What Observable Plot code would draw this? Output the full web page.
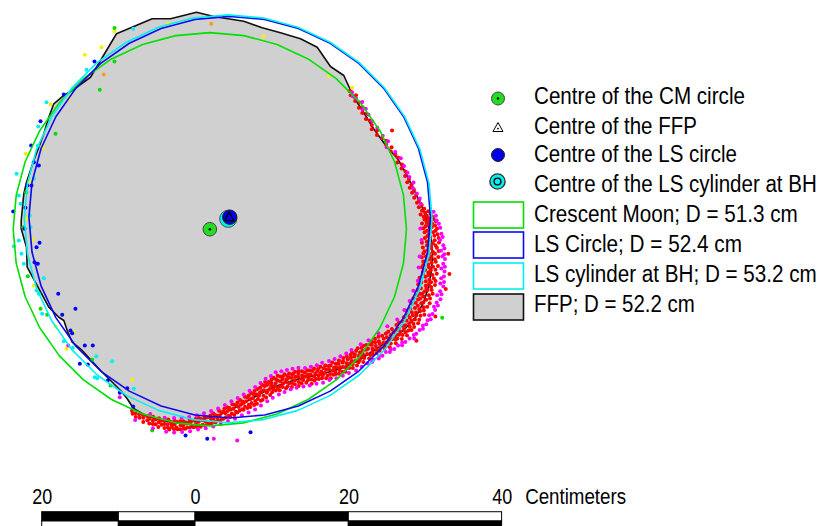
<!DOCTYPE html>
<html>
<head>
<meta charset="utf-8">
<script src="https://cdn.jsdelivr.net/npm/d3@7"></script>
<script src="https://cdn.jsdelivr.net/npm/@observablehq/plot@0.6"></script>
<style>
  html, body { margin: 0; padding: 0; background: #fff; }
  #wrap { position: relative; width: 822px; height: 526px; overflow: hidden; background: #fff; }
  #wrap svg { position: absolute; left: 0; top: 0; }
</style>
</head>
<body>
<div id="wrap"></div>
<script>
// ---- fitted circles: centres (cm, east / north) and diameters (cm)
const circleNames = ["Crescent Moon", "LS Circle", "LS cylinder at BH"];
const circleCentreX = [1.87, 4.47, 4.27];
const circleCentreY = [-1.53, 0.04, -0.17];
const circleDiameters = [51.3, 52.4, 53.2];

// ---- free-form profile (FFP) outline and centre, cm
const ffpName = "FFP";
const ffpDiameter = 52.2;
const ffpCentre = [4.40, -0.04];
const ffpOutline = [
  [0.13,26.78],[2.39,26.22],[6.30,25.61],[8.70,24.75],[11.09,24.10],[13.70,23.31],[15.88,22.22],
  [17.61,19.70],[19.35,18.53],[20.65,15.69],[21.79,13.96],[23.22,11.61],[24.92,9.26],[26.35,7.70],
  [27.40,5.87],[28.31,4.04],[29.09,2.35],[29.88,0.65],[30.40,-1.17],[30.79,-3.00],[30.92,-4.96],
  [30.79,-6.91],[30.40,-9.13],[29.75,-11.09],[28.70,-13.05],[27.14,-14.74],[25.44,-15.92],
  [23.48,-17.22],[21.27,-18.66],[18.92,-19.70],[16.31,-20.48],[13.70,-21.01],[11.48,-21.66],
  [9.52,-22.44],[7.57,-23.48],[5.48,-24.66],[3.26,-25.70],[0.65,-26.42],[-1.30,-26.74],
  [-4.17,-26.58],[-6.52,-25.83],[-8.09,-24.92],[-8.91,-23.65],[-9.78,-22.57],[-12.39,-19.96],
  [-14.78,-17.35],[-16.09,-16.27],[-16.74,-14.74],[-17.18,-13.44],[-17.83,-13.01],[-19.14,-11.70],
  [-21.96,-6.48],[-22.05,-3.87],[-22.74,-1.47],[-22.74,-0.39],[-22.40,3.09],[-22.05,4.61],
  [-21.10,7.44],[-20.44,9.17],[-19.79,10.92],[-19.14,13.09],[-18.49,14.83],[-17.18,15.92],
  [-16.09,16.57],[-13.70,18.30],[-10.31,23.97],[-8.05,24.92],[-5.65,25.92],[-3.26,25.92]
];

// ---- scanned wall points along the lower-right arc: [bearing deg, range cm] from the LS centre
const bandRed = [
  [46.5,22.7],[45.2,22.4],[44.0,22.9],[42.8,22.3],[41.5,22.6],[40.3,22.1],[39.6,22.5],[38.2,22.0],
  [37.1,22.4],[35.8,21.9],[34.6,22.2],[33.0,22.1],[31.8,21.8],[30.5,22.3],[29.2,22.0],[28.1,24.0],
  [27.4,22.4],[26.1,22.7],[24.9,22.5],[23.4,23.0],[22.2,22.7],[20.8,23.1],[19.5,23.3],[18.1,23.0],
  [17.0,23.5],[15.8,23.3],[14.6,23.7],[13.2,23.5],[12.0,23.9],[11.1,23.6],[10.2,24.1],[9.3,23.8],
  [8.5,24.3],[7.6,24.0],[6.8,24.5],[6.0,24.2],[5.2,24.8],[4.4,24.5],[3.6,25.1],[3.0,24.7],[2.5,25.4],
  [1.9,25.1],[1.7,25.9],[1.3,25.5],[1.0,26.2],[0.8,24.9],[0.5,25.7],[0.2,26.4],[0.1,25.3],
  [-0.2,25.9],[-0.5,26.6],[-0.7,25.4],[-1.0,26.1],[-1.2,26.9],[-1.5,25.7],[-1.7,26.4],[-1.9,25.1],
  [-2.1,26.0],[-2.3,26.8],[-2.6,25.6],[-2.8,26.4],[-3.1,27.1],[-3.3,25.3],[-3.6,26.2],[-3.8,26.9],[-3.9,25.8],
  [-4.2,26.6],[-4.4,25.5],[-4.7,27.2],[-4.9,26.1],[-5.2,26.8],[-5.4,25.9],[-5.7,27.4],[-5.9,26.3],
  [-6.1,25.6],[-6.4,26.9],[-6.6,26.2],[-6.9,27.5],[-7.1,25.9],[-7.3,26.7],[-7.6,25.3],[-7.8,27.1],[-7.9,26.4],
  [-8.2,26.0],[-8.4,27.3],[-8.7,26.6],[-8.9,25.5],[-9.2,27.6],[-9.4,26.2],[-9.7,26.9],[-9.9,25.8],[-9.5,28.9],
  [-10.1,27.2],[-10.3,26.4],[-10.6,25.7],[-10.8,27.7],[-11.1,26.8],[-11.3,26.1],[-11.6,27.3],[-11.8,25.6],[-11.9,26.6],
  [-12.2,27.5],[-12.4,26.3],[-12.7,27.0],[-12.9,25.9],[-13.2,27.9],[-13.4,26.6],[-13.7,27.3],[-13.9,26.0],
  [-14.1,26.8],[-14.3,27.7],[-14.6,25.9],[-14.8,27.1],[-15.1,26.4],[-15.3,28.0],[-15.6,26.9],[-15.8,26.2],[-15.9,27.5],[-14.5,29.6],
  [-16.2,27.0],[-16.4,26.3],[-16.7,27.8],[-16.9,26.7],[-17.2,28.1],[-17.4,27.3],[-17.7,26.0],[-17.9,27.6],
  [-18.1,26.9],[-18.3,28.2],[-18.6,27.4],[-18.8,26.4],[-19.1,27.8],[-19.3,27.1],[-19.6,26.1],[-19.8,28.0],[-19.9,27.3],[-18.4,29.7],
  [-20.2,27.5],[-20.4,26.6],[-20.7,28.3],[-20.9,27.2],[-21.2,26.3],[-21.4,27.9],[-21.7,27.0],[-21.9,26.8],
  [-22.1,28.2],[-22.3,27.3],[-22.6,26.5],[-22.8,27.8],[-23.1,27.0],[-23.3,28.4],[-23.6,26.8],[-23.8,27.6],[-23.9,26.2],
  [-24.2,27.4],[-24.4,28.3],[-24.7,26.7],[-24.9,27.9],[-25.2,27.1],[-25.4,26.3],[-25.7,28.1],[-25.9,27.5],[-25.8,29.8],
  [-26.1,26.9],[-26.3,27.7],[-26.6,28.4],[-26.8,26.4],[-27.1,27.3],[-27.3,28.0],[-27.6,26.8],[-27.8,27.5],[-27.9,26.1],
  [-28.2,27.1],[-28.4,28.1],[-28.7,26.5],[-28.9,27.6],[-29.2,26.9],[-29.4,28.2],[-29.7,27.3],[-29.9,26.2],
  [-30.1,27.7],[-30.3,26.7],[-30.6,27.2],[-30.8,28.0],[-31.1,26.3],[-31.3,27.5],[-31.6,26.9],[-31.8,27.9],[-31.9,26.0],
  [-32.2,26.6],[-32.4,27.6],[-32.7,27.0],[-32.9,25.9],[-33.2,27.4],[-33.4,26.4],[-33.7,27.8],[-33.9,26.8],[-33.5,29.2],
  [-34.1,26.3],[-34.3,27.3],[-34.6,25.7],[-34.8,26.9],[-35.1,26.1],[-35.3,27.5],[-35.6,26.6],[-35.8,25.5],[-35.9,27.0],
  [-36.2,26.0],[-36.4,26.9],[-36.7,25.4],[-36.9,26.5],[-37.2,27.2],[-37.4,25.8],[-37.7,26.3],[-37.9,25.2],
  [-38.1,26.7],[-38.3,25.6],[-38.6,26.2],[-38.8,24.9],[-39.1,26.9],[-39.3,25.9],[-39.6,26.4],[-39.8,25.3],[-39.9,24.7],
  [-40.2,25.6],[-40.4,26.5],[-40.7,25.0],[-40.9,26.0],[-41.2,24.6],[-41.4,25.4],[-41.7,26.2],[-41.9,24.9],
  [-42.1,25.8],[-42.3,24.7],[-42.6,25.3],[-42.8,26.1],[-43.1,24.4],[-43.3,25.6],[-43.6,24.9],[-43.8,25.9],[-43.9,24.2],
  [-44.2,24.8],[-44.4,25.7],[-44.7,24.2],[-44.9,25.3],[-45.2,24.6],[-45.4,25.9],[-45.7,23.9],[-45.9,25.0],
  [-46.1,24.5],[-46.3,25.4],[-46.6,24.0],[-46.8,25.0],[-47.1,24.7],[-47.3,25.7],[-47.6,24.2],[-47.8,25.2],[-47.9,23.8],
  [-48.2,24.4],[-48.4,25.3],[-48.7,23.9],[-48.9,24.9],[-49.2,24.2],[-49.4,25.5],[-49.7,24.6],[-49.9,23.7],
  [-50.1,25.0],[-50.3,24.1],[-50.6,24.7],[-50.8,25.4],[-51.1,23.6],[-51.3,24.4],[-51.6,25.1],[-51.8,23.9],[-51.9,24.8],
  [-52.2,24.0],[-52.4,24.9],[-52.7,23.5],[-52.9,24.5],[-53.2,25.2],[-53.4,23.8],[-53.7,24.3],[-53.9,25.0],
  [-54.1,23.6],[-54.3,24.6],[-54.6,24.0],[-54.8,23.2],[-55.1,24.9],[-55.3,23.9],[-55.6,24.4],[-55.8,23.4],[-55.9,24.7],
  [-56.2,24.1],[-56.4,23.3],[-56.7,24.6],[-56.9,23.7],[-57.2,23.0],[-57.4,24.3],[-57.7,23.5],[-57.9,24.8],
  [-58.1,23.2],[-58.3,24.3],[-58.6,23.8],[-58.8,22.8],[-59.1,24.5],[-59.3,23.4],[-59.6,24.0],[-59.8,22.9],[-59.9,23.6],
  [-60.2,24.2],[-60.4,23.1],[-60.7,23.7],[-60.9,22.6],[-61.2,24.1],[-61.4,23.3],[-61.7,22.8],[-61.9,23.9],
  [-62.1,23.5],[-62.3,22.6],[-62.6,24.0],[-62.8,23.1],[-63.1,22.4],[-63.3,23.7],[-63.6,22.9],[-63.8,24.2],[-63.9,23.3],
  [-64.2,22.5],[-64.4,23.6],[-64.7,23.0],[-64.9,22.2],[-65.2,23.8],[-65.4,22.7],[-65.7,23.3],[-65.9,22.0],
  [-66.1,23.1],[-66.3,22.3],[-66.6,23.6],[-66.8,22.7],[-67.1,21.9],[-67.3,23.3],[-67.6,22.5],[-67.8,23.8],[-67.9,22.0],
  [-68.2,22.9],[-68.4,22.1],[-68.7,23.4],[-68.9,22.5],[-69.2,21.8],[-69.4,23.1],[-69.7,22.3],[-69.9,23.6],
  [-70.1,22.0],[-70.3,23.0],[-70.6,22.4],[-70.8,21.7],[-71.1,23.3],[-71.3,22.7],[-71.6,21.9],[-71.8,23.5],[-71.9,22.2],
  [-72.2,22.8],[-72.4,21.8],[-72.7,23.2],[-72.9,22.4],[-73.2,21.6],[-73.4,23.0],[-73.7,22.2],[-73.9,23.5],
  [-74.1,22.0],[-74.3,23.1],[-74.6,22.5],[-74.8,21.7],[-75.1,23.4],[-75.3,22.8],[-75.6,21.9],[-75.8,23.2],[-75.9,22.3],
  [-76.2,22.6],[-76.4,23.5],[-76.7,22.1],[-76.9,23.0],[-77.2,23.8],[-77.4,22.4],[-77.7,23.2],[-77.9,22.0],
  [-78.1,23.4],[-78.3,22.5],[-78.6,24.0],[-78.8,23.0],[-79.1,22.3],[-79.3,23.7],[-79.6,23.1],[-79.8,24.2],[-79.9,22.6],
  [-80.2,23.2],[-80.4,24.3],[-80.7,23.6],[-80.9,22.7],[-81.2,24.0],[-81.4,23.4],[-81.7,24.6],[-81.9,22.9],
  [-82.1,24.2],[-82.3,23.3],[-82.6,24.7],[-82.8,23.8],[-83.1,23.1],[-83.3,24.4],[-83.6,23.9],[-83.8,24.9],[-83.9,23.4],
  [-84.2,24.6],[-84.4,23.6],[-84.7,25.0],[-84.9,24.1],[-85.2,23.5],[-85.4,24.8],[-85.7,24.3],[-85.9,25.2],
  [-86.1,24.1],[-86.3,25.1],[-86.6,24.5],[-86.8,23.9],[-87.1,25.3],[-87.3,24.8],[-87.6,24.2],[-87.8,25.5],[-87.9,24.6],
  [-88.2,25.4],[-88.4,24.5],[-88.7,25.8],[-88.9,25.0],[-89.2,24.4],[-89.4,25.6],[-89.7,25.1],[-89.9,26.0],
  [-90.1,24.9],[-90.3,25.9],[-90.6,25.3],[-90.8,24.8],[-91.1,26.1],[-91.3,25.6],[-91.6,25.0],[-91.8,26.3],[-91.9,25.4],
  [-92.2,26.3],[-92.4,25.5],[-92.7,26.6],[-92.9,25.9],[-93.2,25.3],[-93.4,26.4],[-93.7,26.0],[-93.9,26.8],
  [-94.1,25.9],[-94.3,26.8],[-94.6,26.3],[-94.8,25.7],[-95.1,27.0],[-95.3,26.5],[-95.6,26.0],[-95.8,27.1],
  [-96.2,27.1],[-96.4,26.3],[-96.7,27.4],[-96.9,26.8],[-97.2,26.2],[-97.4,27.3],[-97.7,26.7],[-97.9,27.6],
  [-98.1,26.6],[-98.3,27.5],[-98.6,27.0],[-98.8,26.5],[-99.1,27.7],[-99.3,27.2],[-99.6,26.7],[-99.8,27.8],
  [-100.2,27.7],[-100.4,27.0],[-100.7,27.9],[-100.9,27.3],[-101.2,26.9],[-101.4,28.0],[-101.7,27.5],[-101.9,28.2],
  [-102.1,27.4],[-102.3,28.2],[-102.6,27.8],[-102.8,27.3],[-103.1,28.4],[-103.3,27.9],[-103.6,27.4],[-103.8,28.5],
  [-104.2,28.3],[-104.4,27.6],[-104.7,28.6],[-104.9,28.0],[-105.2,27.5],[-105.4,28.4],[-105.7,28.1],[-105.9,28.8],
  [-106.1,27.8],[-106.4,28.6],[-106.7,28.2],[-106.9,27.6],[-107.2,28.8],[-107.5,28.3],[-107.8,27.9],
  [-108.2,28.5],[-108.5,28.0],[-108.8,28.9],[-109.1,28.3],[-109.4,27.8],[-109.7,28.7],
  [-110.1,28.1],[-110.4,28.8],[-110.7,28.4],[-111.0,27.9],[-111.3,28.9],[-111.7,28.3],
  [-112.1,28.6],[-112.5,28.1],[-112.9,29.0],[-113.3,28.5],[-113.7,28.2],
  [-114.2,28.7],[-114.7,28.3],[-115.2,28.8],[-115.7,28.4],[-116.3,28.6],[-116.8,28.3]
];
const bandMagenta = [
  [45.6,22.8],[44.5,22.5],[43.2,22.6],[41.0,22.9],[39.0,22.3],[38.6,22.7],[36.4,22.5],[34.0,22.4],
  [31.2,22.5],[28.0,22.6],[25.6,22.9],[24.0,22.4],[21.5,23.2],[19.0,23.6],[16.4,23.7],[14.0,23.9],
  [12.6,24.0],[10.7,24.4],[9.0,24.2],[7.2,24.6],[5.6,24.9],[4.0,25.0],
  [1.5,26.6],[0.4,26.9],[-0.9,27.0],[-1.8,27.3],[-2.9,27.5],[-3.4,24.9],[-4.5,27.7],[-5.3,27.9],
  [-6.2,27.6],[-6.8,25.2],[-7.5,28.1],[-8.3,28.3],[-9.0,27.9],[-9.8,28.4],[-10.4,28.2],[-11.0,28.6],
  [-11.7,25.3],[-12.3,28.5],[-13.0,28.8],[-13.6,28.4],[-14.2,28.9],[-14.9,25.5],[-15.5,29.0],[-16.1,28.7],
  [-16.8,29.2],[-17.5,28.8],[-18.0,29.3],[-18.7,25.9],[-19.4,29.1],[-20.0,29.4],[-20.6,28.9],[-21.3,29.5],
  [-21.8,25.8],[-22.4,29.2],[-23.0,29.5],[-23.7,29.1],[-24.3,29.4],[-25.0,25.9],[-25.5,29.3],[-26.2,29.0],
  [-26.9,29.4],[-27.5,29.1],[-28.0,25.8],[-28.6,29.2],[-29.3,28.9],[-30.0,29.1],[-30.7,28.8],[-31.4,25.6],
  [-32.0,28.7],[-32.6,28.5],[-33.3,28.8],[-34.0,28.3],[-34.7,25.0],[-35.4,28.1],[-36.0,27.8],[-36.6,28.0],
  [-37.3,27.6],[-38.0,24.6],[-38.7,27.5],[-39.4,27.2],[-40.1,27.3],[-40.8,26.9],[-41.6,24.2],[-42.2,26.9],
  [-42.9,26.6],[-43.5,26.8],[-44.1,23.8],[-44.8,26.4],[-45.5,26.5],
  [-46.7,26.2],[-47.5,23.5],[-48.6,26.0],[-49.5,23.4],[-50.5,25.9],[-51.5,23.2],[-52.6,25.6],[-53.5,23.0],
  [-54.5,25.4],[-55.4,22.8],[-56.5,25.2],[-57.6,22.5],[-58.5,24.9],[-59.5,22.4],[-60.6,24.8],[-61.5,22.2],
  [-62.5,24.5],[-63.5,22.0],[-64.6,24.3],[-65.5,21.6],[-66.5,24.1],[-67.5,21.4],[-68.6,23.9],[-69.5,21.3],
  [-70.5,23.8],[-71.5,21.2],[-72.6,23.9],[-73.5,21.1],[-74.5,24.0],[-75.5,21.4],[-76.6,24.2],[-77.5,21.6],
  [-78.5,24.5],[-79.5,22.0],[-80.6,24.9],[-81.5,22.4],[-82.5,25.3],[-83.5,22.8],[-84.5,25.6],[-85.5,23.2],
  [-86.5,25.9],[-87.5,23.6],[-88.5,26.3],[-89.5,24.0],[-90.5,26.6],[-91.5,24.5],[-92.5,27.0],[-93.5,25.0],
  [-94.5,27.4],[-95.5,25.4],[-96.5,27.7],[-97.5,25.8],[-98.5,28.0],[-99.5,26.2],[-100.5,28.4],[-101.5,26.6],
  [-102.5,28.7],[-103.5,26.9],[-104.5,29.0],[-105.5,27.2],[-106.5,29.2],[-108.0,27.5],[-110.0,29.3],
  [-112.0,27.7],[-115.0,29.2]
];

// ---- scattered points round the rest of the wall, cm (east, north)
const pointsYellow = [
  [-12.26,22.22],[-14.44,21.23],[-10.57,24.31],[-3.56,25.27],[8.83,23.61],[17.39,18.49],[20.44,16.92],
  [-18.92,14.74],[-16.53,15.49],[-19.87,9.17],[-22.14,8.31],[-21.62,4.74],[-22.05,-0.17],[-21.23,-2.91],
  [-21.10,-8.87],[-18.26,-14.22],[-16.83,-17.13],[-8.26,-21.17],[-15.96,-14.87]
];
const pointsOrange = [[2.05,25.27],[-11.96,18.66]];
const pointsGreen = [
  [-10.57,24.73],[-10.57,20.35],[-12.49,16.66],[-18.26,10.92],[-22.09,3.30],[-22.48,-1.27],[-21.88,-7.66],
  [-20.22,-11.91],[-19.35,-12.69],[-13.48,-18.56],[-11.09,-21.92],[-5.65,-27.79],[32.19,-13.09]
];
const pointsBlue = [
  [-13.18,20.35],[-17.18,16.05],[-20.22,12.56],[-21.44,9.39],[-21.10,7.21],[-20.44,6.78],[-21.96,4.17],
  [-21.40,4.17],[-23.78,0.78],[-22.18,1.27],[-22.31,-1.47],[-20.35,-3.30],[-20.74,-3.87],[-21.00,-5.83],
  [-20.57,-6.04],[-17.91,-9.95],[-15.66,-11.91],[-17.39,-12.69],[-16.31,-14.74],[-16.09,-15.09],
  [-14.44,-16.70],[-13.40,-16.70],[-15.09,-19.09],[-14.05,-19.18],[-11.44,-21.27],[-9.88,-22.87],
  [-8.91,-22.27],[-8.13,-24.66],[-1.30,-28.44],[7.18,-28.01],[1.53,-28.87]
];
const pointsCyan = [
  [-8.13,24.62],[-14.22,19.27],[-19.44,15.04],[-20.52,11.87],[-20.57,9.35],[-23.35,5.70],[-21.10,5.09],
  [-23.05,2.87],[-22.83,1.79],[-21.62,0.26],[-23.05,-3.00],[-23.70,-3.74],[-22.70,-4.74],[-22.40,-6.04],
  [-21.53,-1.27],[-19.79,-7.92],[-20.74,-9.52],[-20.44,-9.95],[-20.00,-12.56],[-17.18,-16.14],
  [-16.01,-17.00],[-12.95,-18.10],[-10.87,-18.75],[-13.14,-20.84],[-12.82,-20.97],[-8.05,-22.35]
];
const pointsMagenta = [[-16.61,-16.70],[-9.88,-23.44],[5.44,-29.09],[2.39,-28.87]];

// ---- scale bar (cm)
const scaleStops = [-20, -10, 0, 20, 40];
const scaleTicks = [-20, 0, 20, 40];
const scaleUnit = "Centimeters";

// ---- drawing
const FONT = '"Liberation Sans Narrow", "Arial Narrow", "Liberation Sans", Arial, sans-serif';
const W = 822, H = 526;
const pxPerCm = 7.665;
const origin = [195, 217]; // where (0, 0) cm sits on the page

const colors = {
  cm: "#00e000", ls: "#0a0af0", cyl: "#00f0f0",
  ffpFill: "#d0d0d0", ffpStroke: "#111111",
  red: "#ff0000", magenta: "#ff00ff", blue: "#0000ff", cyan: "#00f0f0",
  yellow: "#f2f200", green: "#00dd00", orange: "#ff9a1a"
};
const circleColors = [colors.cm, colors.ls, colors.cyl];

const lsX = circleCentreX[1], lsY = circleCentreY[1];
const toXY = ([deg, r]) => {
  const a = deg * Math.PI / 180;
  return [lsX + r * Math.cos(a), lsY + r * Math.sin(a)];
};
const redXY = bandRed.map(toXY);
const magentaXY = bandMagenta.map(toXY);

// each fitted circle drawn as a 36-sided outline
const circleVerts = circleNames.map((name, i) =>
  d3.range(0, 361, 10).map(deg => {
    const a = deg * Math.PI / 180, r = circleDiameters[i] / 2;
    return [circleCentreX[i] + r * Math.cos(a), circleCentreY[i] + r * Math.sin(a)];
  })
);

const X = d => d[0], Y = d => d[1];
const dots = (data, fill) => Plot.dot(data, {x: X, y: Y, r: 2, fill});

const segs = d3.pairs(scaleStops).map(([a, b], i) => ({a, b, i}));
const barTop = [-38.45, -39.66], barBot = [-39.66, -41.5];

const chart = Plot.plot({
  width: W, height: H, margin: 0,
  style: {fontFamily: FONT, background: "transparent", overflow: "hidden"},
  x: {domain: [-origin[0] / pxPerCm, (W - origin[0]) / pxPerCm], range: [0, W], axis: null},
  y: {domain: [(origin[1] - H) / pxPerCm, origin[1] / pxPerCm], range: [H, 0], axis: null},
  marks: [
    Plot.line(ffpOutline, {x: X, y: Y, curve: "linear-closed", fill: colors.ffpFill, stroke: colors.ffpStroke, strokeWidth: 1.6}),
    dots(pointsYellow, colors.yellow),
    dots(pointsOrange, colors.orange),
    dots(pointsGreen, colors.green),
    dots(pointsCyan, colors.cyan),
    dots(pointsBlue, colors.blue),
    dots(pointsMagenta, colors.magenta),
    dots(redXY, colors.red),
    dots(magentaXY, colors.magenta),
    ...circleVerts.map((v, i) => Plot.line(v, {x: X, y: Y, stroke: circleColors[i], strokeWidth: 1.6})),
    // centres
    Plot.dot([[circleCentreX[0], circleCentreY[0]]], {x: X, y: Y, r: 6.8, fill: "#22dd22", stroke: "#444", strokeWidth: 1}),
    Plot.dot([[circleCentreX[0], circleCentreY[0]]], {x: X, y: Y, r: 1.3, fill: "#000"}),
    Plot.dot([[circleCentreX[2], circleCentreY[2]]], {x: X, y: Y, r: 8.6, fill: colors.cyl, stroke: "#555", strokeWidth: 1}),
    Plot.dot([[circleCentreX[1], circleCentreY[1]]], {x: X, y: Y, r: 7.2, fill: "#0000e8", stroke: "#222", strokeWidth: 1}),
    Plot.dot([ffpCentre], {x: X, y: Y, r: 3.6, symbol: "triangle", fill: "none", stroke: "#000", strokeWidth: 1.2}),
    // scale bar
    Plot.rect(segs, {x1: "a", x2: "b", y1: barTop[0], y2: barTop[1], fill: d => d.i % 2 ? "#fff" : "#000", stroke: "#000", strokeWidth: 1}),
    Plot.rect(segs, {x1: "a", x2: "b", y1: barBot[0], y2: barBot[1], fill: d => d.i % 2 ? "#000" : "#fff", stroke: "#000", strokeWidth: 1}),
    Plot.text(scaleTicks, {x: d => d, y: -36.4, text: d => String(Math.abs(d)), fontSize: 22, fill: "#000", lineAnchor: "middle"}),
    Plot.text([scaleUnit], {x: scaleStops[scaleStops.length - 1], y: -36.4, dx: 20, text: d => d, textAnchor: "start", fontSize: 22, fill: "#000", lineAnchor: "middle"})
  ]
});

const wrap = document.getElementById("wrap");
wrap.appendChild(chart);

// the labels use a condensed face: narrow each text run horizontally about its anchor
function squeeze(t, width, anchor) {
  const box = t.ownerSVGElement.getBoundingClientRect();
  const r = t.getBoundingClientRect();
  const ax = (anchor === "start" ? r.left : r.left + r.width / 2) - box.left;
  const sx = width / r.width;
  const g = document.createElementNS("http://www.w3.org/2000/svg", "g");
  g.setAttribute("transform", `translate(${ax},0) scale(${sx},1) translate(${-ax},0)`);
  t.parentNode.insertBefore(g, t);
  g.appendChild(t);
}
chart.querySelectorAll("text").forEach(t => {
  const s = t.textContent;
  if (s === scaleUnit) squeeze(t, 101, "start");
  else squeeze(t, s.length * 10, "middle");
});

// ---- legend
const leg = d3.create("svg").attr("width", W).attr("height", H)
  .style("font-family", FONT).style("pointer-events", "none");
wrap.appendChild(leg.node());
const textX = 534, symX = 498;
const labels = [
  "Centre of the CM circle",
  "Centre of the FFP",
  "Centre of the LS circle",
  "Centre of the LS cylinder at BH",
  ...circleNames.map((n, i) => `${n}; D = ${circleDiameters[i].toFixed(1)} cm`),
  `${ffpName}; D = ${ffpDiameter.toFixed(1)} cm`
];
const baselines = [104, 134, 162, 192, 222, 252, 282.5, 312.5];
const labelWidths = [211, 163, 203, 283, 264, 208, 283, 161];
labels.forEach((t, i) => {
  const el = leg.append("text").attr("x", textX).attr("y", baselines[i]).attr("font-size", 23.5).attr("fill", "#000").text(t);
  squeeze(el.node(), labelWidths[i], "start");
});
// point symbols
leg.append("circle").attr("cx", symX).attr("cy", 98.5).attr("r", 6.5).attr("fill", "#22dd22").attr("stroke", "#444");
leg.append("circle").attr("cx", symX).attr("cy", 98.5).attr("r", 1.2).attr("fill", "#000");
leg.append("path").attr("d", `M${symX},122.5L${symX + 5},131.5L${symX - 5},131.5Z`).attr("fill", "#fff").attr("stroke", "#000").attr("stroke-width", 1);
leg.append("circle").attr("cx", symX).attr("cy", 128.6).attr("r", 0.9).attr("fill", "#000");
leg.append("circle").attr("cx", symX).attr("cy", 155).attr("r", 6.5).attr("fill", "#0000e8").attr("stroke", "#222");
leg.append("circle").attr("cx", symX - 0.5).attr("cy", 181.5).attr("r", 7.6).attr("fill", colors.cyl).attr("stroke", "#333").attr("stroke-width", 1.4);
leg.append("circle").attr("cx", symX - 0.5).attr("cy", 181.5).attr("r", 3.4).attr("fill", colors.cyl).attr("stroke", "#000").attr("stroke-width", 1.4);
// area symbols
const boxTops = [202, 232, 263, 294];
const boxFill = ["#fff", "#fff", "#fff", colors.ffpFill];
const boxStroke = [...circleColors, colors.ffpStroke];
boxTops.forEach((top, i) => {
  leg.append("rect").attr("x", 473.5).attr("y", top).attr("width", 50).attr("height", 26)
    .attr("fill", boxFill[i]).attr("stroke", boxStroke[i]).attr("stroke-width", 1.6);
});
</script>
</body>
</html>
